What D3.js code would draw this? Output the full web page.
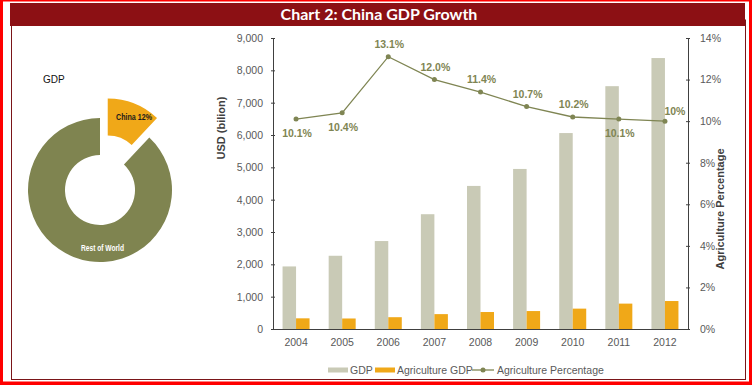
<!DOCTYPE html>
<html>
<head>
<meta charset="utf-8">
<script src="https://cdn.jsdelivr.net/npm/d3@7"></script>
<style>
  body { margin: 0; background: #fff; }
  svg { display: block; font-family: Arial, "Liberation Sans", sans-serif; }
</style>
</head>
<body>
<div id="chart"></div>
<script>
// Chart data
const years = ["2004", "2005", "2006", "2007", "2008", "2009", "2010", "2011", "2012"];
const gdp = [1935, 2265, 2720, 3550, 4425, 4950, 6060, 7510, 8380];
const agriGdp = [330, 325, 365, 460, 525, 555, 630, 785, 865];
const agriPct = [10.1, 10.4, 13.1, 12.0, 11.4, 10.7, 10.2, 10.1, 10.0];
const pctLabels = ["10.1%", "10.4%", "13.1%", "12.0%", "11.4%", "10.7%", "10.2%", "10.1%", "10%"];
const labelBelow = [true, true, false, false, false, false, false, true, false];
const shareNames = ["China 12%", "Rest of World"];
const shareValues = [12, 88];

const W = 752, H = 385;
const svg = d3.select("#chart").append("svg")
    .attr("width", W)
    .attr("height", H);

// Frame
svg.append("rect").attr("x", 0).attr("y", 0).attr("width", W).attr("height", H).attr("fill", "#ff0000");
svg.append("rect").attr("x", 3).attr("y", 1.5).attr("width", 746).attr("height", 380).attr("fill", "#fff");
svg.append("rect")
    .attr("x", 11.5).attr("y", 20).attr("width", 734).attr("height", 359.5)
    .attr("fill", "none").attr("stroke", "#7a1518").attr("stroke-width", 1);
svg.append("rect")
    .attr("x", 10).attr("y", 3).attr("width", 735).attr("height", 23)
    .attr("fill", "#8c1014");
svg.append("text")
    .attr("x", 379).attr("y", 20)
    .attr("text-anchor", "middle")
    .attr("fill", "#fff")
    .style("font-family", "Lato, 'Open Sans', sans-serif")
    .style("font-weight", "bold")
    .style("font-size", "16px")
    .text("Chart 2: China GDP Growth");

// Donut
const donut = svg.append("g").attr("transform", "translate(100,190)");
donut.append("text")
    .attr("x", -57).attr("y", -107)
    .style("font-size", "10px")
    .attr("fill", "#111")
    .text("GDP");

const pie = d3.pie().sort(null).value(d => d)(shareValues);
const arc = d3.arc().innerRadius(35).outerRadius(72);
const sliceColors = ["#f0a818", "#7f8450"];

pie.forEach((p, i) => {
    const mid = (p.startAngle + p.endAngle) / 2;
    const off = i === 0 ? 21 : 0;
    const dx = Math.sin(mid) * off, dy = -Math.cos(mid) * off;
    const g = donut.append("g").attr("transform", `translate(${dx},${dy})`);
    g.append("path").attr("d", arc(p)).attr("fill", sliceColors[i]);
});

// Slice labels
donut.append("text")
    .attr("x", 34).attr("y", -70)
    .attr("text-anchor", "middle")
    .style("font-size", "9.5px").style("font-weight", "bold")
    .attr("textLength", 36).attr("lengthAdjust", "spacingAndGlyphs")
    .attr("fill", "#1a1a1a")
    .text(shareNames[0]);
donut.append("text")
    .attr("x", 2.5).attr("y", 61)
    .attr("text-anchor", "middle")
    .style("font-size", "9.5px").style("font-weight", "bold")
    .attr("textLength", 43).attr("lengthAdjust", "spacingAndGlyphs")
    .attr("fill", "#fff")
    .text(shareNames[1]);

// Combo chart scales
const x = d3.scaleBand().domain(years).range([273, 688]);
const x1 = d3.scaleBand().domain(["gdp", "agri"]).range([-13.5, 13.5]);
const yL = d3.scaleLinear().domain([0, 9000]).range([329, 38]);
const yR = d3.scaleLinear().domain([0, 14]).range([329, 38]);

const axisColor = "#404040", tickText = "#595959";

// Bars
svg.append("g").selectAll("rect").data(gdp).join("rect")
    .attr("x", (d, i) => x(years[i]) + x.bandwidth() / 2 + x1("gdp"))
    .attr("y", d => yL(d))
    .attr("width", x1.bandwidth())
    .attr("height", d => yL(0) - yL(d))
    .attr("fill", "#c9cab6");
svg.append("g").selectAll("rect").data(agriGdp).join("rect")
    .attr("x", (d, i) => x(years[i]) + x.bandwidth() / 2 + x1("agri"))
    .attr("y", d => yL(d))
    .attr("width", x1.bandwidth())
    .attr("height", d => yL(0) - yL(d))
    .attr("fill", "#f0a818");

// Axes
function styleAxis(g) {
    g.select(".domain").attr("stroke", axisColor);
    g.selectAll(".tick line").attr("stroke", axisColor);
    g.selectAll(".tick text").attr("fill", tickText).style("font-size", "10.5px");
}
svg.append("g")
    .attr("transform", "translate(273,0)")
    .call(d3.axisLeft(yL).tickValues(d3.range(0, 9001, 1000)).tickFormat(d3.format(",")).tickSizeInner(4).tickSizeOuter(0).tickPadding(6))
    .call(styleAxis)
    .call(g => g.selectAll(".tick line").attr("x2", 2).attr("x1", -2));
svg.append("g")
    .attr("transform", "translate(688,0)")
    .call(d3.axisRight(yR).tickValues(d3.range(0, 15, 2)).tickFormat(d => d + "%").tickSizeInner(4).tickSizeOuter(0).tickPadding(8))
    .call(styleAxis)
    .call(g => g.selectAll(".tick line").attr("x2", 2).attr("x1", -2));
svg.append("g")
    .attr("transform", "translate(0,329)")
    .call(d3.axisBottom(x).tickSize(0).tickPadding(10))
    .call(styleAxis);

// Axis titles
svg.append("text")
    .attr("transform", "translate(225,128) rotate(-90)")
    .attr("text-anchor", "middle")
    .style("font-size", "11px").style("font-weight", "bold")
    .attr("fill", "#404040")
    .text("USD (bilion)");
svg.append("text")
    .attr("transform", "translate(724,209) rotate(-90)")
    .attr("text-anchor", "middle")
    .style("font-size", "11px").style("font-weight", "bold")
    .attr("fill", "#404040")
    .text("Agriculture Percentage");

// Line
const lineColor = "#7f8553";
const cx = (d, i) => x(years[i]) + x.bandwidth() / 2;
svg.append("path")
    .datum(agriPct)
    .attr("fill", "none")
    .attr("stroke", lineColor)
    .attr("stroke-width", 1.3)
    .attr("d", d3.line().x(cx).y(d => yR(d)));
svg.append("g").selectAll("circle").data(agriPct).join("circle")
    .attr("cx", cx)
    .attr("cy", d => yR(d))
    .attr("r", 2.5)
    .attr("fill", lineColor);
svg.append("g").selectAll("text").data(agriPct).join("text")
    .attr("x", (d, i) => cx(d, i) + (i === years.length - 1 ? 10 : 1))
    .attr("y", (d, i) => yR(d) + (labelBelow[i] ? 18 : (i === years.length - 1 ? -6 : -9)))
    .attr("text-anchor", "middle")
    .style("font-size", "10.5px").style("font-weight", "bold")
    .attr("fill", "#7f8553")
    .text((d, i) => pctLabels[i]);

// Legend
const legend = svg.append("g").style("font-size", "10.5px");
legend.append("rect").attr("x", 328).attr("y", 367.5).attr("width", 20).attr("height", 5).attr("fill", "#c9cab6");
legend.append("text").attr("x", 350).attr("y", 373.5).attr("fill", tickText).text("GDP");
legend.append("rect").attr("x", 375).attr("y", 367.5).attr("width", 20).attr("height", 5).attr("fill", "#f0a818");
legend.append("text").attr("x", 397).attr("y", 373.5).attr("fill", tickText).text("Agriculture GDP");
legend.append("line").attr("x1", 472).attr("x2", 494).attr("y1", 370).attr("y2", 370).attr("stroke", lineColor).attr("stroke-width", 1.3);
legend.append("circle").attr("cx", 483).attr("cy", 370).attr("r", 2.5).attr("fill", lineColor);
legend.append("text").attr("x", 497).attr("y", 373.5).attr("fill", tickText).text("Agriculture Percentage");
</script>
</body>
</html>
